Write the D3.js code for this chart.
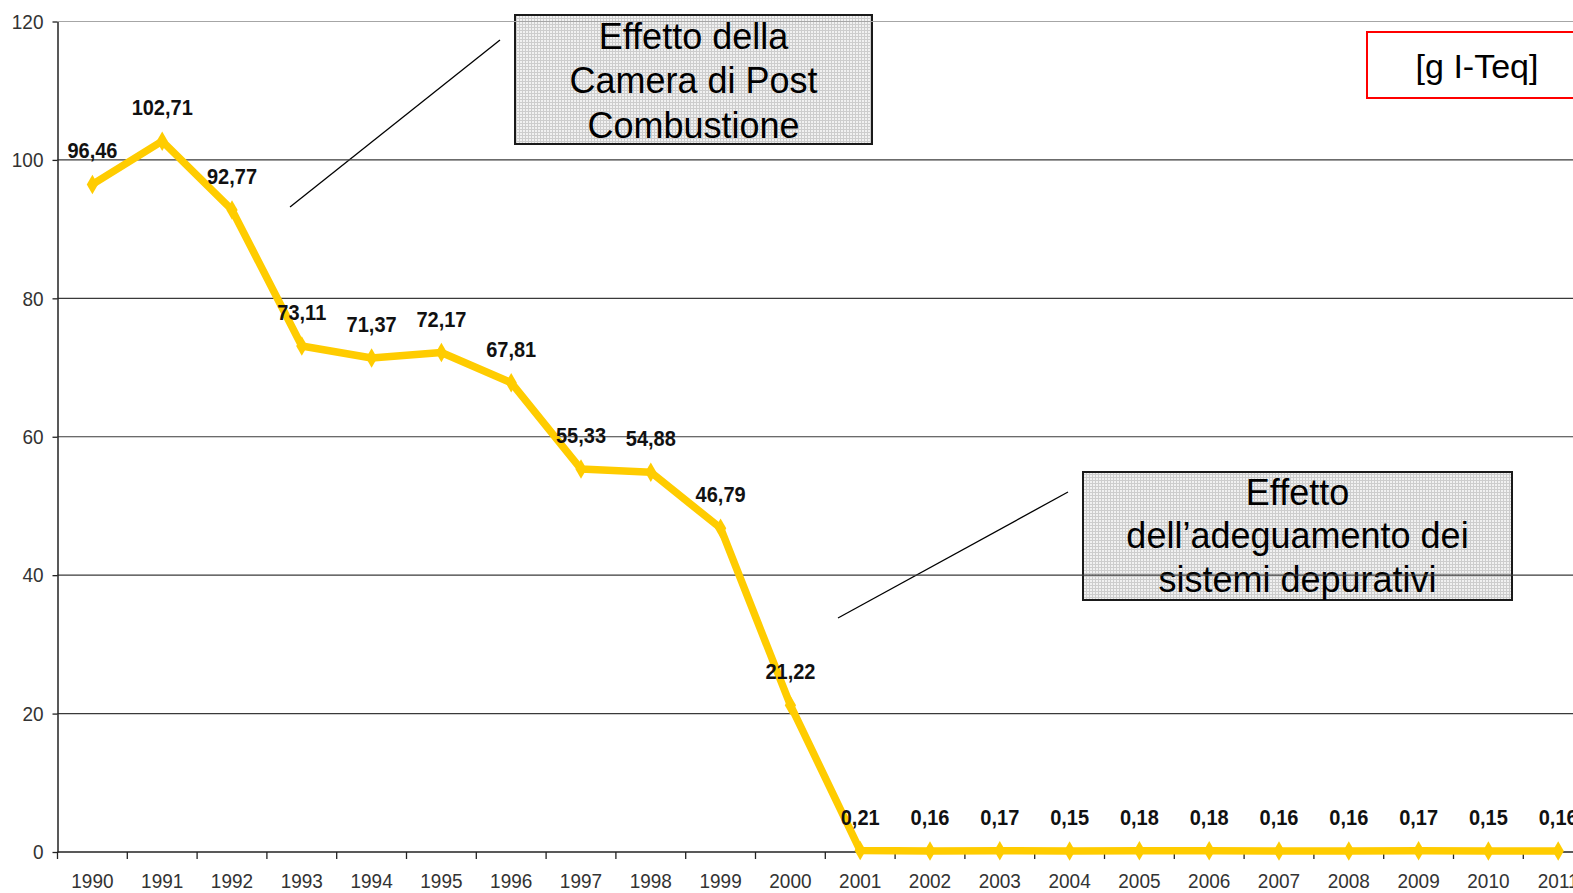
<!DOCTYPE html>
<html>
<head>
<meta charset="utf-8">
<script src="https://cdn.jsdelivr.net/npm/d3@7"></script>
<style>
  html, body { margin: 0; padding: 0; background: #fff; overflow: hidden; }
  svg { display: block; font-family: "Liberation Sans", Arial, sans-serif; }
</style>
</head>
<body>
<svg id="chart" width="1573" height="893"></svg>
<script>
// Emissioni annue [g I-Teq], 1990–2011
const years = ["1990","1991","1992","1993","1994","1995","1996","1997","1998","1999","2000",
               "2001","2002","2003","2004","2005","2006","2007","2008","2009","2010","2011"];
const emissions = [96.46, 102.71, 92.77, 73.11, 71.37, 72.17, 67.81, 55.33, 54.88, 46.79, 21.22,
                   0.21, 0.16, 0.17, 0.15, 0.18, 0.18, 0.16, 0.16, 0.17, 0.15, 0.16];
const yTicks = [0, 20, 40, 60, 80, 100, 120];
const unitLabel = "[g I-Teq]";
const noteCombustion = ["Effetto della", "Camera di Post", "Combustione"];
const noteDepuration = ["Effetto", "dell\u2019adeguamento dei", "sistemi depurativi"];

const W = 1573, H = 893;
const plotLeft = 57.5, step = 69.8, plotTop = 21.5, plotBottom = 852;
const lineColor = "#FFCC00";
const textStretch = 1.1;   // axis and value labels are drawn slightly tall

const svg = d3.select("#chart");
const data = years.map((yr, i) => ({ year: yr, value: emissions[i] }));

const x = d3.scaleBand().domain(years).range([plotLeft, plotLeft + step * years.length]).padding(0);
const y = d3.scaleLinear().domain([0, 120]).range([plotBottom, plotTop]);
const cx = d => x(d.year) + x.bandwidth() / 2;
const fmt = v => d3.format(".2f")(v).replace(".", ",");

// fill texture for the note boxes
const defs = svg.append("defs");
const pat = defs.append("pattern").attr("id", "noteFill")
  .attr("width", 3).attr("height", 3).attr("patternUnits", "userSpaceOnUse");
pat.append("rect").attr("width", 3).attr("height", 3).attr("fill", "#f1f1f1");
pat.append("rect").attr("width", 3).attr("height", 1).attr("fill", "#cdcdcd");
pat.append("rect").attr("width", 1).attr("height", 3).attr("fill", "#cdcdcd");

// note boxes with leader lines
function noteBox(lines, bx, by, bw, bh, baselines, leader) {
  const g = svg.append("g");
  g.append("rect").attr("x", bx).attr("y", by).attr("width", bw).attr("height", bh)
    .attr("fill", "url(#noteFill)").attr("stroke", "#1a1a1a").attr("stroke-width", 2);
  g.selectAll("text").data(lines).join("text")
    .attr("x", bx + bw / 2).attr("y", (d, i) => baselines[i])
    .attr("text-anchor", "middle").attr("font-size", 36).attr("fill", "#000")
    .text(d => d);
  svg.append("line").attr("x1", leader[0]).attr("y1", leader[1])
    .attr("x2", leader[2]).attr("y2", leader[3])
    .attr("stroke", "#000").attr("stroke-width", 1.3);
}
noteBox(noteCombustion, 515, 15, 357, 129, [49, 93, 138], [290, 207, 500, 40]);
noteBox(noteDepuration, 1083, 472, 429, 128, [505, 548, 592], [838, 618, 1068, 492]);

// horizontal gridlines
svg.append("g").selectAll("line").data(yTicks.filter(t => t > 0)).join("line")
  .attr("x1", plotLeft).attr("x2", W)
  .attr("y1", d => y(d)).attr("y2", d => y(d))
  .attr("stroke", d => d === 120 ? "#a6a6a6" : "#3a3a3a")
  .attr("stroke-width", d => d === 120 ? 1.2 : 1.1);

// y axis
const yAxis = svg.append("g").attr("transform", `translate(${plotLeft},0)`)
  .call(d3.axisLeft(y).tickValues(yTicks).tickSize(5).tickSizeOuter(0).tickPadding(9));
yAxis.select(".domain").attr("stroke", "#222").attr("stroke-width", 1.5);
yAxis.selectAll(".tick line").attr("stroke", "#222").attr("stroke-width", 1.3);
yAxis.selectAll("text").attr("font-size", 19).attr("fill", "#333")
  .attr("font-family", "Liberation Sans, Arial, sans-serif")
  .attr("transform", `scale(1,${textStretch})`);

// x axis: baseline, ticks at category boundaries, year labels
const xAxis = svg.append("g").attr("transform", `translate(0,${plotBottom})`);
xAxis.append("line").attr("x1", plotLeft).attr("x2", W).attr("y1", 0).attr("y2", 0)
  .attr("stroke", "#222").attr("stroke-width", 1.5);
const bounds = years.map(d => x(d)).concat([x.range()[1]]);
xAxis.selectAll("line.tk").data(bounds).join("line").attr("class", "tk")
  .attr("x1", d => d).attr("x2", d => d).attr("y1", 0).attr("y2", 7)
  .attr("stroke", "#222").attr("stroke-width", 1.3);
xAxis.selectAll("text").data(years).join("text")
  .attr("transform", d => `translate(${x(d) + x.bandwidth() / 2},36) scale(1,${textStretch})`)
  .attr("text-anchor", "middle").attr("font-size", 19).attr("fill", "#333")
  .text(d => d);

// series line and markers
svg.append("path").datum(data)
  .attr("d", d3.line().x(cx).y(d => y(d.value)))
  .attr("fill", "none").attr("stroke", lineColor).attr("stroke-width", 7.5)
  .attr("stroke-linejoin", "round");
svg.append("g").selectAll("path").data(data).join("path")
  .attr("transform", d => `translate(${cx(d)},${y(d.value)})`)
  .attr("d", d3.symbol(d3.symbolDiamond, 110))
  .attr("fill", lineColor);

// value labels
svg.append("g").selectAll("text").data(data).join("text")
  .attr("transform", d => `translate(${cx(d)},${y(d.value) - 26}) scale(1,1.06)`)
  .attr("text-anchor", "middle").attr("font-size", 20).attr("font-weight", "bold")
  .attr("fill", "#111")
  .text(d => fmt(d.value));

// unit box
svg.append("rect").attr("x", 1367).attr("y", 32).attr("width", 260).attr("height", 66)
  .attr("fill", "#fff").attr("stroke", "#ff0000").attr("stroke-width", 2);
svg.append("text").attr("x", 1477).attr("y", 78).attr("text-anchor", "middle")
  .attr("font-size", 34).attr("fill", "#000").text(unitLabel);
</script>
</body>
</html>
